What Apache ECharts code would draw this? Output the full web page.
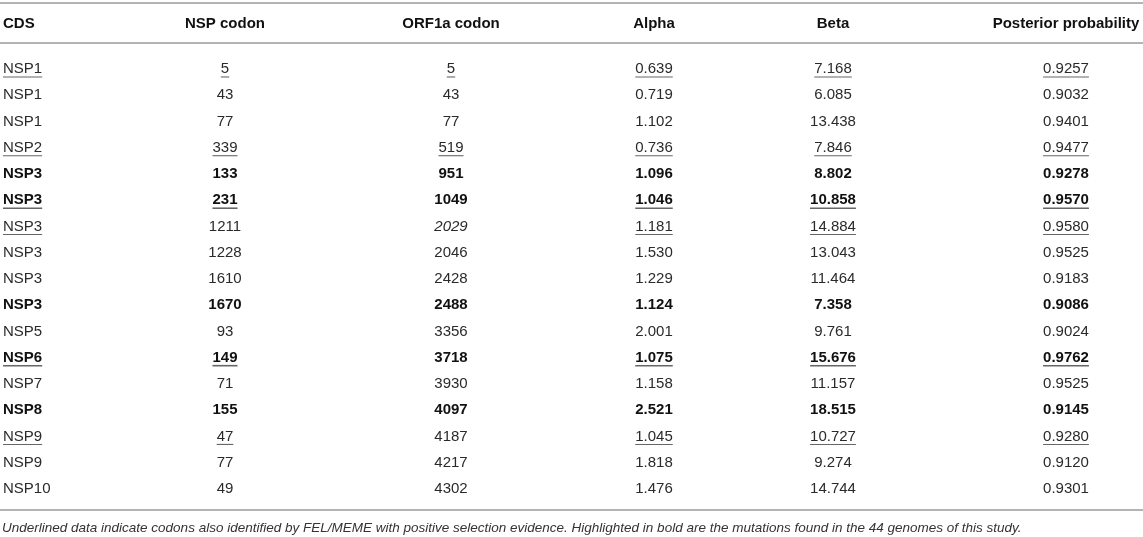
<!DOCTYPE html>
<html>
<head>
<meta charset="utf-8">
<script src="https://cdn.jsdelivr.net/npm/echarts@6/dist/echarts.min.js"></script>
<style>
  html, body { margin: 0; padding: 0; background: #fff; }
  #chart { width: 1143px; height: 537px; }
</style>
</head>
<body>
<div id="chart"></div>
<script>
// ---- table data ----
var headers = ['CDS', 'NSP codon', 'ORF1a codon', 'Alpha', 'Beta', 'Posterior probability'];
var cds = ['NSP1', 'NSP1', 'NSP1', 'NSP2', 'NSP3', 'NSP3', 'NSP3', 'NSP3', 'NSP3', 'NSP3',
           'NSP5', 'NSP6', 'NSP7', 'NSP8', 'NSP9', 'NSP9', 'NSP10'];
var nspCodon = [5, 43, 77, 339, 133, 231, 1211, 1228, 1610, 1670, 93, 149, 71, 155, 47, 77, 49];
var orf1aCodon = [5, 43, 77, 519, 951, 1049, 2029, 2046, 2428, 2488, 3356, 3718, 3930, 4097, 4187, 4217, 4302];
var alpha = [0.639, 0.719, 1.102, 0.736, 1.096, 1.046, 1.181, 1.530, 1.229, 1.124,
             2.001, 1.075, 1.158, 2.521, 1.045, 1.818, 1.476];
var beta = [7.168, 6.085, 13.438, 7.846, 8.802, 10.858, 14.884, 13.043, 11.464, 7.358,
            9.761, 15.676, 11.157, 18.515, 10.727, 9.274, 14.744];
var posterior = [0.9257, 0.9032, 0.9401, 0.9477, 0.9278, 0.9570, 0.9580, 0.9525, 0.9183, 0.9086,
                 0.9024, 0.9762, 0.9525, 0.9145, 0.9280, 0.9120, 0.9301];
// rows in bold, underlined rows per column, italic cells [row, col]
var boldRows = [4, 5, 9, 11, 13];
var underlinedRows = [
  [0, 3, 5, 6, 11, 14],
  [0, 3, 5, 11, 14],
  [0, 3],
  [0, 3, 5, 6, 11, 14],
  [0, 3, 5, 6, 11, 14],
  [0, 3, 5, 6, 11, 14]
];
var italicCells = [[6, 2]];
var footnote = 'Underlined data indicate codons also identified by FEL/MEME with positive selection evidence. ' +
               'Highlighted in bold are the mutations found in the 44 genomes of this study.';

// ---- layout ----
var COL_X = [3, 225, 451, 654, 833, 1066];     // column anchors (px on the x axis)
var COL_ALIGN = ['left', 'center', 'center', 'center', 'center', 'center'];
var HEADER_ROW = -1.72;
var RULES = [-2.476, -0.952, 16.84];
var FONT_FAMILY = '"Liberation Sans", Arial, Helvetica, sans-serif';
var FONT_SIZE = 15;

var columns = [
  cds,
  nspCodon.map(String),
  orf1aCodon.map(String),
  alpha.map(function (v) { return v.toFixed(3); }),
  beta.map(function (v) { return v.toFixed(3); }),
  posterior.map(function (v) { return v.toFixed(4); })
];

var measureCtx = document.createElement('canvas').getContext('2d');
function fontOf(bold, italic) {
  return (italic ? 'italic ' : '') + (bold ? 'bold ' : '') + FONT_SIZE + 'px ' + FONT_FAMILY;
}

var cells = [];
columns.forEach(function (col, c) {
  col.forEach(function (txt, r) {
    var it = italicCells.some(function (p) { return p[0] === r && p[1] === c; });
    cells.push({
      value: [c, r],
      text: txt,
      bold: boldRows.indexOf(r) >= 0,
      underline: underlinedRows[c].indexOf(r) >= 0,
      italic: it
    });
  });
});
headers.forEach(function (h, c) {
  cells.push({ value: [c, HEADER_ROW], text: h, bold: true, underline: false, italic: false });
});

function renderItem(params, api) {
  var cell = cells[params.dataIndex];
  var c = api.value(0);
  var p = api.coord([COL_X[c], api.value(1)]);
  var font = fontOf(cell.bold, cell.italic);
  var children = [{
    type: 'text',
    x: p[0], y: p[1] + 1,
    style: {
      text: cell.text,
      font: font,
      fill: cell.bold ? '#111' : '#2a2a2a',
      align: COL_ALIGN[c],
      verticalAlign: 'middle'
    }
  }];
  if (cell.underline) {
    measureCtx.font = font;
    var w = measureCtx.measureText(cell.text).width;
    var x0 = COL_ALIGN[c] === 'left' ? p[0] : p[0] - w / 2;
    var uy = p[1] + 9;
    children.push({
      type: 'line',
      shape: { x1: x0, y1: uy, x2: x0 + w, y2: uy },
      style: { stroke: '#666', lineWidth: cell.bold ? 1.6 : 1.1 }
    });
  }
  return { type: 'group', children: children };
}

var chart = echarts.init(document.getElementById('chart'));
chart.setOption({
  animation: false,
  backgroundColor: '#fff',
  title: {
    text: footnote,
    left: 2,
    top: 521,
    padding: 0,
    textStyle: {
      fontFamily: FONT_FAMILY,
      fontSize: 13.5,
      fontStyle: 'italic',
      fontWeight: 'normal',
      color: '#333'
    }
  },
  grid: { left: 0, right: 0, top: 0, bottom: 0 },
  xAxis: { type: 'value', min: 0, max: 1143, show: false },
  yAxis: { type: 'value', min: -2.59, max: 17.87, inverse: true, show: false },
  series: [{
    type: 'custom',
    renderItem: renderItem,
    data: cells.map(function (d) { return d.value; }),
    clip: false,
    silent: true,
    markLine: {
      silent: true,
      symbol: 'none',
      label: { show: false },
      lineStyle: { color: '#b4b4b4', width: 2, type: 'solid' },
      data: RULES.map(function (y) { return { yAxis: y }; })
    }
  }]
});
</script>
</body>
</html>
